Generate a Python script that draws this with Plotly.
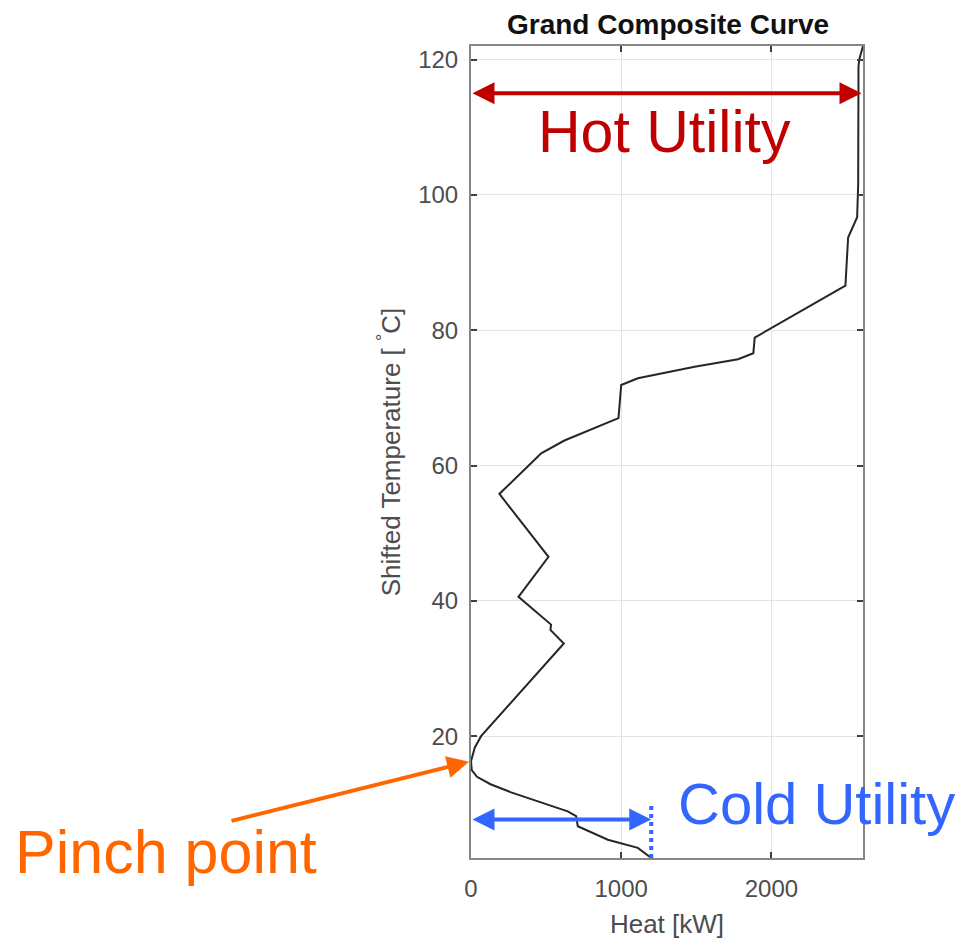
import plotly.graph_objects as go

# Grand composite curve (top to bottom)
heat_kw = [
    2610, 2585, 2580, 2578, 2571, 2511, 2493, 1889, 1880, 1778, 1489, 1111,
    1000, 982, 622, 467, 444, 189, 516, 316, 533, 529, 618, 67, 25, 0, 5,
    40, 130, 267, 644, 700, 711, 911, 1111, 1200,
]
shifted_temp_c = [
    122.0, 120.0, 119.0, 101.6, 96.7, 93.7, 86.6, 78.9, 76.6, 75.7, 74.6, 72.9,
    71.9, 67.0, 63.7, 61.8, 61.3, 55.8, 46.5, 40.6, 36.5, 35.7, 33.7, 20.0, 18.3,
    16.3, 15.0, 14.0, 12.9, 11.7, 8.9, 8.2, 6.7, 4.7, 3.5, 2.0,
]

x_ticks = [0, 1000, 2000]
y_ticks = [20, 40, 60, 80, 100, 120]

hot_utility_kw = 2600
hot_arrow_temp = 115
cold_utility_kw = heat_kw[-1]
cold_arrow_temp = 7.7
cold_marker_top = 9.7
pinch_kw = 0
pinch_temp = 16.3

FONT = "Liberation Sans, Arial, sans-serif"
HOT = "#c00000"
COLD = "#3366ff"
PINCH = "#ff6600"
AXIS = "#868686"

fig = go.Figure()
fig.add_trace(
    go.Scatter(
        x=heat_kw,
        y=shifted_temp_c,
        mode="lines",
        line={"color": "#262626", "width": 2},
        showlegend=False,
    )
)
# dotted marker at the cold utility end
fig.add_trace(
    go.Scatter(
        x=[cold_utility_kw, cold_utility_kw],
        y=[min(shifted_temp_c), cold_marker_top],
        mode="lines",
        line={"color": COLD, "width": 4, "dash": "dot"},
        showlegend=False,
    )
)

arrow_common = {
    "showarrow": True,
    "text": "",
    "xref": "x",
    "yref": "y",
    "axref": "x",
    "ayref": "y",
    "arrowhead": 2,
    "startarrowhead": 2,
    "arrowside": "end+start",
    "arrowwidth": 4,
    "arrowsize": 1.1,
    "startarrowsize": 1.1,
    "standoff": 0,
    "startstandoff": 0,
}
fig.add_annotation(
    x=hot_utility_kw, y=hot_arrow_temp, ax=0, ay=hot_arrow_temp,
    arrowcolor=HOT, **arrow_common,
)
fig.add_annotation(
    x=cold_utility_kw, y=cold_arrow_temp, ax=0, ay=cold_arrow_temp,
    arrowcolor=COLD, **arrow_common,
)
fig.add_annotation(
    x=pinch_kw, y=pinch_temp, ax=-241, ay=60, xref="x", yref="y",
    showarrow=True, text="", arrowcolor=PINCH, arrowwidth=4,
    arrowhead=2, arrowsize=1.1, standoff=2,
)

# text labels, placed relative to the plot area (left edge 470px, bottom 856px)
fig.add_annotation(
    text="Hot Utility", xref="paper", yref="paper", x=(663 - 470) / 392,
    y=(856 - 130) / 812, showarrow=False,
    font={"family": FONT, "size": 59, "color": HOT},
    xanchor="center", yanchor="middle",
)
fig.add_annotation(
    text="Cold Utility", xref="paper", yref="paper", x=(675 - 470) / 392,
    y=(856 - 801) / 812, showarrow=False,
    font={"family": FONT, "size": 58, "color": COLD},
    xanchor="left", yanchor="middle",
)
fig.add_annotation(
    text="Pinch point", xref="paper", yref="paper", x=(12 - 470) / 392,
    y=(856 - 850) / 812, showarrow=False,
    font={"family": FONT, "size": 61, "color": PINCH},
    xanchor="left", yanchor="middle",
)

axis_common = {
    "showline": True,
    "linecolor": AXIS,
    "linewidth": 2,
    "mirror": "allticks",
    "ticks": "inside",
    "ticklen": 6,
    "tickwidth": 1.5,
    "tickcolor": "#404040",
    "showgrid": True,
    "gridcolor": "#e3e3e3",
    "gridwidth": 1,
    "zeroline": False,
    "automargin": False,
    "tickfont": {"family": FONT, "size": 24, "color": "#4d4d4d"},
}
fig.update_xaxes(
    range=[0, max(heat_kw)],
    tickvals=x_ticks,
    ticklabelstandoff=8,
    title={"text": "Heat [kW]", "font": {"family": FONT, "size": 26, "color": "#4d4d4d"},
           "standoff": 14},
    **axis_common,
)
fig.update_yaxes(
    range=[min(shifted_temp_c), max(shifted_temp_c)],
    tickvals=y_ticks,
    ticklabelstandoff=6,
    title={"text": "Shifted Temperature [ <sup>°</sup>C]",
           "font": {"family": FONT, "size": 26, "color": "#4d4d4d"}, "standoff": 10},
    **axis_common,
)
# the page body adds a small offset, so margins are shifted by it
fig.update_layout(
    width=965,
    height=943,
    template="plotly_white",
    plot_bgcolor="white",
    paper_bgcolor="white",
    margin={"l": 463, "r": 110, "t": 38, "b": 93, "autoexpand": False},
    title={
        "text": "<b>Grand Composite Curve</b>",
        "font": {"family": FONT, "size": 28, "color": "#111111"},
        "x": 660 / 965,
        "xanchor": "center",
        "y": 1 - 16 / 943,
        "yanchor": "middle",
    },
)
fig.write_html("out.html")
